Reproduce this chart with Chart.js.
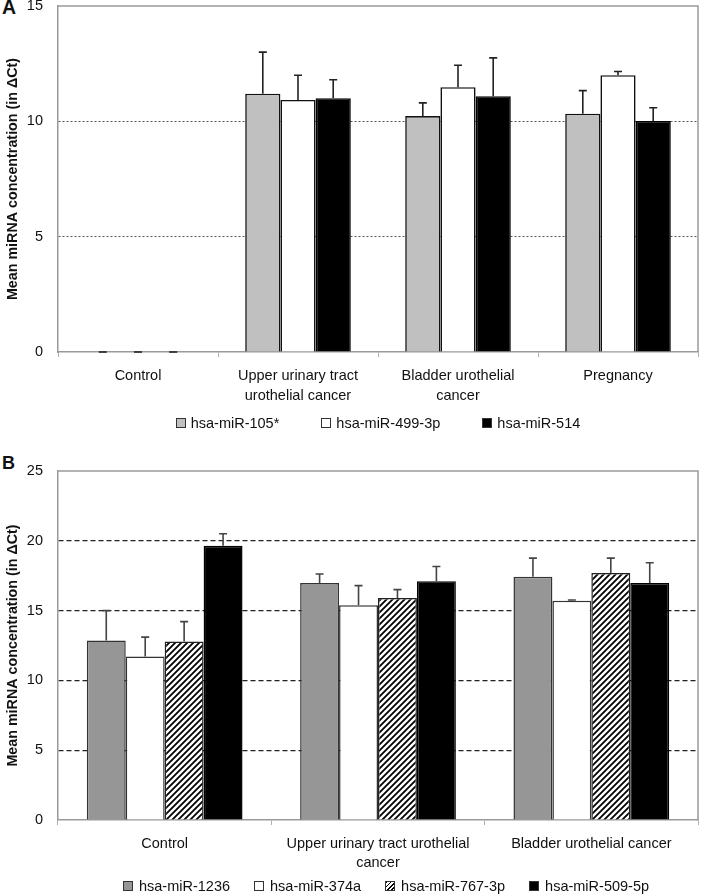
<!DOCTYPE html>
<html>
<head>
<meta charset="utf-8">
<script src="https://cdn.jsdelivr.net/npm/chart.js@4.4.1/dist/chart.umd.min.js"></script>
<style>
html, body { margin: 0; padding: 0; background: #fff; }
body { width: 701px; height: 894px; overflow: hidden; position: relative; font-family: 'Liberation Sans', Arial, sans-serif; color: #111; }
canvas { position: absolute; left: 0; }
.panel { position: absolute; left: 2px; font-weight: bold; line-height: 1; }
.legend { position: absolute; left: 58px; width: 640px; display: flex; justify-content: center; font-size: 14.5px; line-height: 18px; white-space: nowrap; }
.legend .item { display: flex; align-items: center; }
.legend i { display: inline-block; width: 10px; height: 10px; box-sizing: border-box; border: 1px solid #333; }
</style>
</head>
<body>
<div class="panel" style="top:-2.5px;font-size:19.5px">A</div>
<canvas id="chartA" width="701" height="444" style="top:-4px"></canvas>
<div class="legend" id="legendA" style="top:414px"></div>

<div class="panel" style="top:453.5px;font-size:18px">B</div>
<canvas id="chartB" width="701" height="442" style="top:452px"></canvas>
<div class="legend" id="legendB" style="top:877px;padding-left:16px;box-sizing:border-box"></div>

<script>
// Panel A data
const categoriesA = ['Control', ['Upper urinary tract', 'urothelial cancer'], ['Bladder urothelial', 'cancer'], 'Pregnancy'];
const mir105 = [0, 11.2, 10.23, 10.33];
const err105 = [0, 1.8, 0.57, 1.0];
const mir499 = [0, 10.93, 11.48, 12.0];
const err499 = [0, 1.07, 0.95, 0.16];
const mir514 = [0, 11.0, 11.09, 10.01];
const err514 = [0, 0.8, 1.66, 0.58];

// Panel B data
const categoriesB = ['Control', ['Upper urinary tract urothelial', 'cancer'], 'Bladder urothelial cancer'];
const mir1236 = [12.86, 16.98, 17.43];
const err1236 = [2.14, 0.64, 1.33];
const mir374a = [11.71, 15.38, 15.71];
const err374a = [1.39, 1.41, 0.05];
const mir767 = [12.79, 15.9, 17.69];
const err767 = [1.42, 0.6, 1.07];
const mir509 = [19.64, 17.1, 16.98];
const err509 = [0.86, 1.06, 1.45];

const FONT = "'Liberation Sans', Arial, sans-serif";

// diagonal hatch fill for hsa-miR-767-3p
function hatch() {
    const c = document.createElement('canvas');
    c.width = c.height = 6;
    const g = c.getContext('2d');
    g.fillStyle = '#fff';
    g.fillRect(0, 0, 6, 6);
    g.strokeStyle = '#000';
    g.lineWidth = 1.8;
    g.beginPath();
    g.moveTo(0, 6); g.lineTo(6, 0);
    g.moveTo(-1, 1); g.lineTo(1, -1);
    g.moveTo(5, 7); g.lineTo(7, 5);
    g.stroke();
    return g.createPattern(c, 'repeat');
}

// upper error bars with caps
const errorBars = {
    id: 'errorBars',
    afterDatasetsDraw(chart, args, opts) {
        const ctx = chart.ctx;
        const y = chart.scales.y;
        ctx.save();
        ctx.strokeStyle = opts.color;
        ctx.lineWidth = opts.width;
        chart.data.datasets.forEach((ds, i) => {
            chart.getDatasetMeta(i).data.forEach((bar, j) => {
                const top = y.getPixelForValue(ds.data[j] + ds.errors[j]);
                ctx.beginPath();
                ctx.moveTo(bar.x, bar.y);
                ctx.lineTo(bar.x, top);
                ctx.moveTo(bar.x - opts.cap, top);
                ctx.lineTo(bar.x + opts.cap, top);
                ctx.stroke();
            });
        });
        ctx.restore();
    }
};

// top and right plot border
const frame = {
    id: 'frame',
    beforeDatasetsDraw(chart, args, opts) {
        const { ctx, chartArea: a } = chart;
        ctx.save();
        ctx.strokeStyle = opts.color;
        ctx.lineWidth = opts.width;
        ctx.beginPath();
        ctx.moveTo(a.left, a.top);
        ctx.lineTo(a.right, a.top);
        ctx.lineTo(a.right, a.bottom);
        ctx.stroke();
        ctx.restore();
    }
};

function makeChart(id, labels, datasets, yMax, s) {
    return new Chart(document.getElementById(id), {
        type: 'bar',
        data: { labels: labels, datasets: datasets },
        plugins: [frame, errorBars],
        options: {
            responsive: false,
            animation: false,
            layout: { padding: { left: 0, right: 3, top: s.padTop, bottom: s.padBottom } },
            datasets: { bar: { categoryPercentage: s.catPct, barPercentage: 1.0 } },
            plugins: {
                legend: { display: false },
                tooltip: { enabled: false },
                frame: { color: '#9a9a9a', width: 1.5 },
                errorBars: { color: s.errColor, width: 1.6, cap: 4 }
            },
            scales: {
                x: {
                    afterFit: sc => { sc.height = 50; },
                    grid: { drawOnChartArea: false, tickLength: 5, tickColor: '#b0b0b0', color: '#b0b0b0' },
                    border: { color: '#9a9a9a', width: 1.5 },
                    ticks: { padding: 9, maxRotation: 0, autoSkip: false, color: '#111',
                             font: { family: FONT, size: 14.5, lineHeight: s.lineH } }
                },
                y: {
                    min: 0, max: yMax,
                    afterFit: sc => { sc.width = 58; },
                    grid: {
                        drawTicks: true,
                        tickLength: 15,
                        tickColor: 'rgba(0,0,0,0)',
                        lineWidth: s.gridW,
                        color: c => (c.tick && (c.tick.value === 0 || c.tick.value === yMax)) ? 'rgba(0,0,0,0)' : s.gridColor
                    },
                    border: { color: '#9a9a9a', width: 1.5, dash: s.dash },
                    ticks: { stepSize: 5, padding: 0, color: '#111', font: { family: FONT, size: 14.5 } },
                    title: {
                        display: true,
                        text: 'Mean miRNA concentration (in \u0394Ct)',
                        color: '#111',
                        padding: { top: 4, bottom: 0 },
                        font: { family: FONT, size: 14.3, weight: 'bold' }
                    }
                }
            }
        }
    });
}

makeChart('chartA', categoriesA, [
    { label: 'hsa-miR-105*', data: mir105, errors: err105, backgroundColor: '#c0c0c0', borderColor: '#111', borderWidth: 1.6 },
    { label: 'hsa-miR-499-3p', data: mir499, errors: err499, backgroundColor: '#ffffff', borderColor: '#111', borderWidth: 1.6 },
    { label: 'hsa-miR-514', data: mir514, errors: err514, backgroundColor: '#000000', borderColor: '#000', borderWidth: 1.6 }
], 15, { padTop: 10, padBottom: 38, catPct: 0.66, lineH: 1.4, gridColor: '#555', gridW: 1, dash: [2, 2], errColor: '#222' });

makeChart('chartB', categoriesB, [
    { label: 'hsa-miR-1236', data: mir1236, errors: err1236, backgroundColor: '#969696', borderColor: '#333', borderWidth: 1.5 },
    { label: 'hsa-miR-374a', data: mir374a, errors: err374a, backgroundColor: '#ffffff', borderColor: '#333', borderWidth: 1.5 },
    { label: 'hsa-miR-767-3p', data: mir767, errors: err767, backgroundColor: hatch(), borderColor: '#222', borderWidth: 1.5 },
    { label: 'hsa-miR-509-5p', data: mir509, errors: err509, backgroundColor: '#000000', borderColor: '#000', borderWidth: 1.5 }
], 25, { padTop: 19, padBottom: 24, catPct: 0.73, lineH: 1.35, gridColor: '#222', gridW: 1.2, dash: [5, 3], errColor: '#444' });

// HTML legends
function legend(id, items, gap, textGap) {
    const el = document.getElementById(id);
    el.style.gap = gap + 'px';
    items.forEach(it => {
        const span = document.createElement('span');
        span.className = 'item';
        const box = document.createElement('i');
        box.style.background = it.fill;
        box.style.marginRight = textGap + 'px';
        span.appendChild(box);
        span.appendChild(document.createTextNode(it.label));
        el.appendChild(span);
    });
}
legend('legendA', [
    { label: 'hsa-miR-105*', fill: '#c0c0c0' },
    { label: 'hsa-miR-499-3p', fill: '#fff' },
    { label: 'hsa-miR-514', fill: '#000' }
], 42, 5);
legend('legendB', [
    { label: 'hsa-miR-1236', fill: '#969696' },
    { label: 'hsa-miR-374a', fill: '#fff' },
    { label: 'hsa-miR-767-3p', fill: 'repeating-linear-gradient(135deg, #000 0 1.2px, #fff 1.2px 3px)' },
    { label: 'hsa-miR-509-5p', fill: '#000' }
], 24, 6);
</script>
</body>
</html>
